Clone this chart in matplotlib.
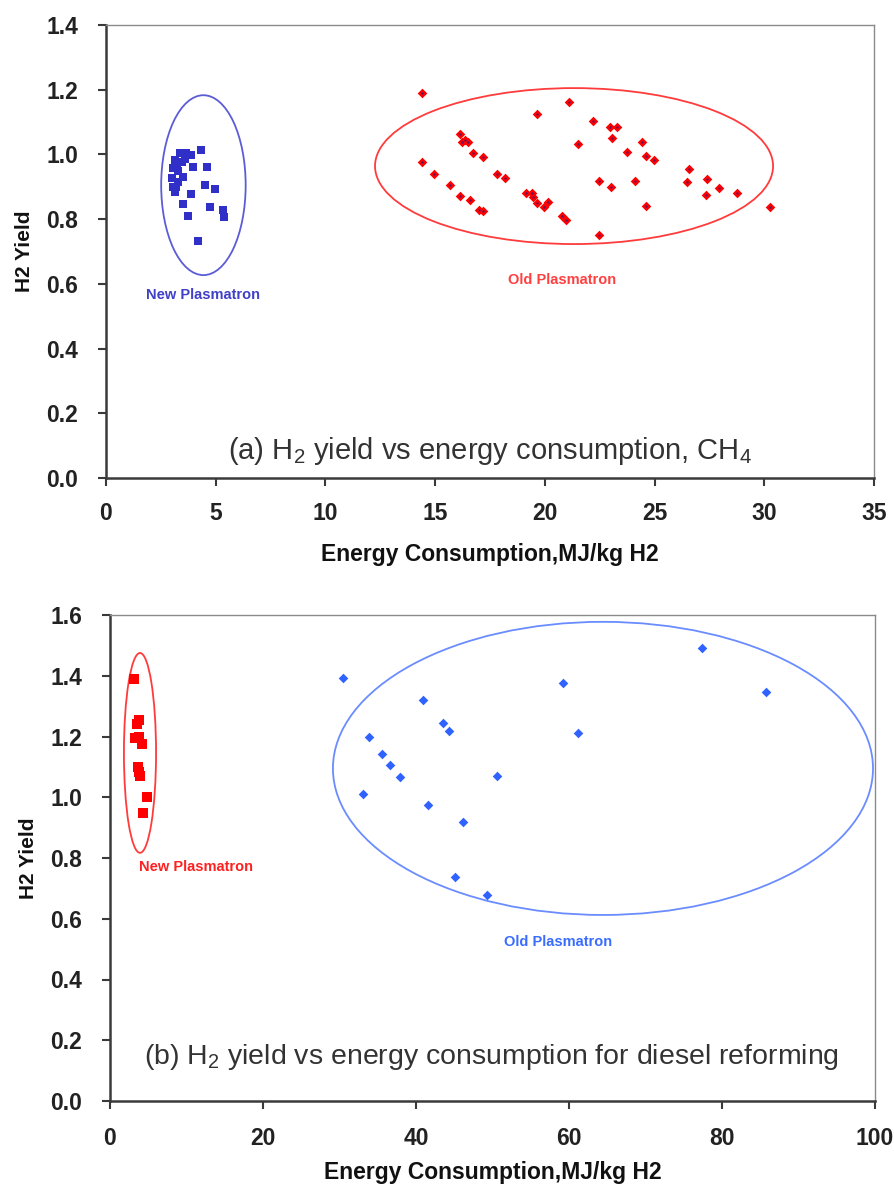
import matplotlib
matplotlib.use("Agg")
import matplotlib.pyplot as plt
from matplotlib.patches import Ellipse

plt.rcParams['font.family'] = ['Liberation Sans', 'DejaVu Sans']
plt.rcParams['mathtext.fontset'] = 'custom'
plt.rcParams['mathtext.rm'] = 'Liberation Sans'
plt.rcParams['mathtext.it'] = 'Liberation Sans:italic'
plt.rcParams['mathtext.bf'] = 'Liberation Sans:bold'

# ---------------- (a) CH4 ----------------
a_new_x = [3.37, 3.66, 3.89, 4.35, 3.14, 3.45, 4.59, 3.06, 3.97, 2.99, 3.30, 3.21,
           4.51, 4.97, 3.87, 3.14, 3.52, 4.74, 5.32, 5.38, 3.75, 4.18,
           3.05, 3.30, 3.50, 3.22, 3.60]
a_new_y = [1.004, 1.003, 0.998, 1.013, 0.983, 0.977, 0.960, 0.957, 0.962, 0.926, 0.916, 0.900,
           0.905, 0.892, 0.877, 0.885, 0.846, 0.838, 0.828, 0.808, 0.810, 0.732,
           0.900, 0.950, 0.930, 0.970, 0.985]

a_old_x = [14.39, 21.12, 19.63, 22.18, 22.97, 23.30, 16.13, 16.36, 16.21, 16.51, 23.08, 24.44,
           21.50, 16.74, 17.20, 23.73, 24.61, 24.98, 14.39, 14.95, 15.68, 16.13, 16.59, 17.01,
           17.18, 17.81, 18.19, 19.14, 19.40, 19.48, 19.63, 20.13, 19.96, 20.77, 20.95, 22.48,
           23.00, 24.11, 24.61, 22.47, 26.57, 26.50, 27.41, 27.95, 27.33, 28.77, 30.26]
a_old_y = [1.191, 1.163, 1.125, 1.104, 1.086, 1.086, 1.063, 1.045, 1.037, 1.039, 1.050, 1.039,
           1.031, 1.003, 0.993, 1.006, 0.995, 0.983, 0.978, 0.939, 0.907, 0.871, 0.859, 0.828,
           0.826, 0.938, 0.926, 0.880, 0.882, 0.869, 0.851, 0.854, 0.837, 0.810, 0.797, 0.919,
           0.900, 0.918, 0.841, 0.751, 0.954, 0.916, 0.924, 0.895, 0.875, 0.882, 0.837]

a_xticks = [0, 5, 10, 15, 20, 25, 30, 35]
a_yticks = [0.0, 0.2, 0.4, 0.6, 0.8, 1.0, 1.2, 1.4]

# ---------------- (b) diesel ----------------
b_new_x = [3.18, 3.83, 3.57, 3.27, 3.83, 4.14, 3.70, 3.83, 3.92, 4.80, 4.35]
b_new_y = [1.388, 1.254, 1.240, 1.194, 1.199, 1.175, 1.101, 1.084, 1.070, 1.002, 0.947]

b_old_x = [30.42, 40.87, 59.26, 33.86, 43.49, 44.36, 61.13, 35.51, 36.60, 37.91, 50.55,
           33.03, 41.61, 46.10, 45.14, 49.28, 77.34, 85.75]
b_old_y = [1.394, 1.320, 1.375, 1.197, 1.243, 1.219, 1.213, 1.142, 1.106, 1.068, 1.070,
           1.011, 0.974, 0.920, 0.738, 0.677, 1.490, 1.346]

b_xticks = [0, 20, 40, 60, 80, 100]
b_yticks = [0.0, 0.2, 0.4, 0.6, 0.8, 1.0, 1.2, 1.4, 1.6]

W, H = 894, 1191
fig = plt.figure(figsize=(W / 100, H / 100), dpi=100)


def style_axes(ax, xticks, yticks, xfmt, yfmt, xpad, xlabpad):
    for s in ('left', 'bottom'):
        ax.spines[s].set_color('#3a3a3a')
        ax.spines[s].set_linewidth(1.8)
    for s in ('top', 'right'):
        ax.spines[s].set_color('#8a8a8a')
        ax.spines[s].set_linewidth(1.0)
    ax.set_xticks(xticks)
    ax.set_yticks(yticks)
    ax.set_xticklabels([xfmt.format(v) for v in xticks])
    ax.set_yticklabels([yfmt.format(v) for v in yticks])
    ax.tick_params(direction='out', length=6, width=1.5, color='#3a3a3a',
                   labelsize=16.5, labelcolor='#222222')
    ax.tick_params(axis='y', pad=14)
    ax.tick_params(axis='x', pad=xpad)
    for lab in ax.get_xticklabels() + ax.get_yticklabels():
        lab.set_fontweight('bold')
    ax.set_xlabel('Energy Consumption,MJ/kg H2', fontsize=16.5, fontweight='bold',
                  color='#111111', labelpad=xlabpad)
    ax.set_ylabel('H2 Yield', fontsize=15, fontweight='bold', color='#111111',
                  labelpad=9)


# ---- top axes ----
ax1 = fig.add_axes([106 / W, 1 - 478 / H, (874 - 106) / W, (478 - 25) / H])
ax1.set_xlim(0, 35)
ax1.set_ylim(0, 1.4)
style_axes(ax1, a_xticks, a_yticks, '{:d}', '{:.1f}', 11, 13)

ax1.add_patch(Ellipse((4.44, 0.905), 3.85, 0.556, fill=False, edgecolor='#5c5cd6', lw=1.3))
ax1.add_patch(Ellipse((21.33, 0.964), 18.14, 0.482, fill=False, edgecolor='#ff3b3b', lw=1.3))

ax1.scatter(a_new_x, a_new_y, marker='s', s=40, color='#3030c8', linewidths=0, zorder=3)
ax1.scatter(a_old_x, a_old_y, marker='D', s=24, color='#ff0000', linewidths=0, zorder=3)
ax1.scatter(a_old_x, a_old_y, marker='o', s=3, color='#6a1060', linewidths=0, zorder=4)

ax1.text(4.44, 0.566, 'New Plasmatron', color='#4040c8', fontsize=10.5,
         fontweight='bold', ha='center', va='center')
ax1.text(20.8, 0.612, 'Old Plasmatron', color='#ff4040', fontsize=10.5,
         fontweight='bold', ha='center', va='center')
ax1.text(17.5, 0.082, '(a) H$_2$ yield vs energy consumption, CH$_4$', color='#333333',
         fontsize=21, ha='center', va='center')

# ---- bottom axes ----
ax2 = fig.add_axes([110 / W, 1 - 1101 / H, (875 - 110) / W, (1101 - 615) / H])
ax2.set_xlim(0, 100)
ax2.set_ylim(0, 1.6)
style_axes(ax2, b_xticks, b_yticks, '{:d}', '{:.1f}', 13, 8)

ax2.add_patch(Ellipse((3.92, 1.146), 4.2, 0.658, fill=False, edgecolor='#ff3b3b', lw=1.3))
ax2.add_patch(Ellipse((64.44, 1.095), 70.6, 0.965, fill=False, edgecolor='#6a8cff', lw=1.3))

ax2.scatter(b_new_x, b_new_y, marker='s', s=42, color='#ff0000', linewidths=0, zorder=3)
ax2.scatter(b_old_x, b_old_y, marker='D', s=24, color='#2f62ff', linewidths=0, zorder=3)

ax2.text(11.24, 0.770, 'New Plasmatron', color='#ff2020', fontsize=10.5,
         fontweight='bold', ha='center', va='center')
ax2.text(58.6, 0.523, 'Old Plasmatron', color='#3a6cff', fontsize=10.5,
         fontweight='bold', ha='center', va='center')
ax2.text(49.9, 0.145, '(b) H$_2$ yield vs energy consumption for diesel reforming',
         color='#333333', fontsize=20.5, ha='center', va='center')

fig.savefig('out.png', dpi=100)
